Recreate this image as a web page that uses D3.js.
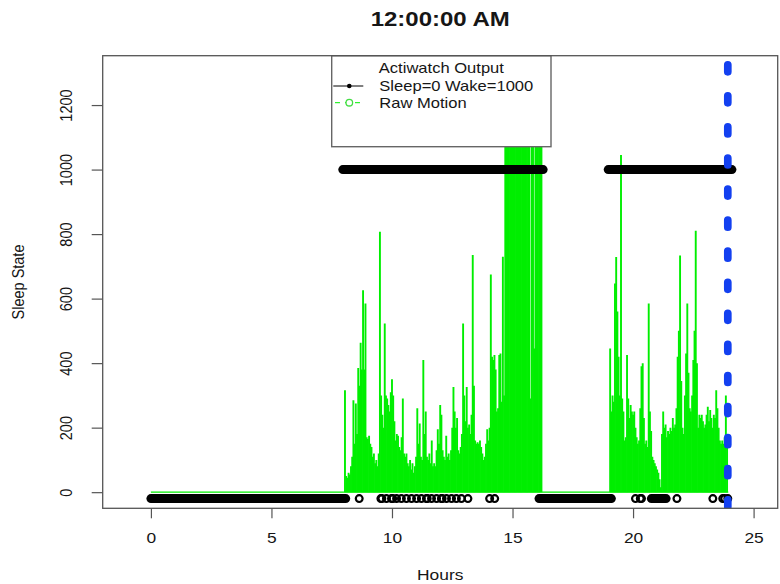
<!DOCTYPE html>
<html><head><meta charset="utf-8">
<script src="https://cdn.jsdelivr.net/npm/d3@7"></script>
<style>body{margin:0;background:#fff}svg{display:block}</style>
</head><body>
<svg id="c" width="780" height="584"></svg>
<script>
// ---------- data ----------
const titleText = "12:00:00 AM";
const xLabel = "Hours";
const yLabel = "Sleep State";
const xTicks = [0, 5, 10, 15, 20, 25];
const yTicks = [0, 200, 400, 600, 800, 1000, 1200];
const legendTitle = "Actiwatch Output";
const legendLabels = ["Sleep=0 Wake=1000", "Raw Motion"];
const markerHour = 23.93;
const sleepLevel = -20;
const wakeLevel = 1000;
// sleep-state runs [startHour, endHour]
const wakeRuns = [[7.96, 16.27], [18.97, 24.10]];
const sleepRuns = [[0, 8.08], [16.10, 19.10], [20.76, 21.37]];
const sleepPoints = [8.64, 9.54, 9.58, 9.77, 9.98, 10.03, 10.19, 10.39, 10.60, 10.81, 11.02,
  11.22, 11.43, 11.46, 11.64, 11.85, 12.05, 12.08, 12.26, 12.47, 12.67, 12.88, 13.15,
  14.05, 14.26, 20.10, 20.30, 20.35, 21.82, 23.31, 23.72, 23.80, 23.93];
// raw motion, sampled every 0.05 h
const motionStep = 0.05;
const motionBaseEnd = 23.95;
const motion1Start = 8.05;
const motion1 = [
  316,50,45,60,55,80,110,285,150,275,
  180,385,330,463,380,626,380,585,170,165,
  175,150,140,110,120,90,100,80,120,807,
  300,240,200,523,300,290,270,250,310,350,
  300,220,160,180,175,140,130,170,290,120,
  110,120,90,80,100,70,90,60,80,110,
  260,150,213,110,100,410,180,250,110,100,
  120,90,160,80,90,80,130,195,150,270,
  240,130,110,100,175,110,120,100,130,200,
  326,250,200,230,130,120,140,180,523,300,
  220,326,200,210,180,240,735,330,160,150,
  155,150,160,140,120,100,110,150,195,160,
  200,675,420,410,425,380,250,260,425,430,
  280,730,300,1300,1300,1300,1300,1300,1300,1300,
  1300,1300,1300,1300,1300,1300,1300,1300,1300,1300,
  1300,1300,1300,1300,290,1300,1300,445,1300,1300,
  1300,1300,1300,1300];
const motion2Start = 19.05;
const motion2 = [
  445,250,300,280,647,729,560,420,300,1045,
  290,250,160,170,425,290,230,270,250,240,
  250,200,170,150,160,260,390,400,230,150,
  160,140,585,250,190,110,100,90,80,70,
  60,40,15,180,250,200,210,170,190,180,
  200,190,230,200,210,260,420,500,734,345,
  200,180,300,430,585,370,260,250,300,410,
  500,810,400,200,240,230,240,220,200,210,
  240,265,220,255,230,200,240,230,316,260,
  200,160,150,160,150,170,300,170];

// ---------- layout ----------
const L = 102.7, R = 777.7, T = 55.7, B = 508.3;
const FONT = "'Liberation Sans', Arial, Helvetica, sans-serif";
const SX = 1.2; // horizontal text stretch of the reference
const GREEN = "#00ee00", BLUE = "#1340f0", INK = "#161616", FRAME = "#555";

const svg = d3.select("#c");
const x = d3.scaleLinear().domain([-2.0, 26.0]).range([L, R]);
const y = d3.scaleLinear().domain([-50, 1353]).range([B, T]);

svg.append("defs").append("clipPath").attr("id", "plotclip")
  .append("rect").attr("x", L).attr("y", T).attr("width", R - L).attr("height", B - T);
const plot = svg.append("g").attr("clip-path", "url(#plotclip)");

// raw motion
const motionPts = [];
motion1.forEach((v, i) => motionPts.push({h: motion1Start + i * motionStep, v}));
motion2.forEach((v, i) => motionPts.push({h: motion2Start + i * motionStep, v}));
plot.append("line")
  .attr("x1", x(0)).attr("x2", x(motionBaseEnd)).attr("y1", y(0)).attr("y2", y(0))
  .attr("stroke", GREEN).attr("stroke-width", 1.3);
plot.append("g").selectAll("line").data(motionPts).join("line")
  .attr("x1", d => x(d.h)).attr("x2", d => x(d.h))
  .attr("y1", y(0)).attr("y2", d => y(d.v))
  .attr("stroke", GREEN).attr("stroke-width", 1.9);

// sleep state
const R_PT = 3.4, SW_PT = 2.2;
const runs = wakeRuns.map(r => ({a: r[0], b: r[1], v: wakeLevel}))
  .concat(sleepRuns.map(r => ({a: r[0], b: r[1], v: sleepLevel})));
plot.append("g").selectAll("line").data(runs).join("line")
  .attr("x1", d => x(d.a)).attr("x2", d => x(d.b))
  .attr("y1", d => y(d.v)).attr("y2", d => y(d.v))
  .attr("stroke", "#000").attr("stroke-width", 2 * R_PT + SW_PT)
  .attr("stroke-linecap", "round");
plot.append("g").selectAll("circle").data(sleepPoints).join("circle")
  .attr("cx", d => x(d)).attr("cy", y(sleepLevel)).attr("r", R_PT)
  .attr("fill", "none").attr("stroke", "#000").attr("stroke-width", SW_PT);

// marker line
const period = 31.07, dashLen = 7, firstCenter = 68.3;
const off = period - ((firstCenter - dashLen / 2) - T);
plot.append("line")
  .attr("x1", x(markerHour)).attr("x2", x(markerHour)).attr("y1", T).attr("y2", B)
  .attr("stroke", BLUE).attr("stroke-width", 7.7).attr("stroke-linecap", "round")
  .attr("stroke-dasharray", `${dashLen} ${period - dashLen}`)
  .attr("stroke-dashoffset", off);

// legend
const lg = svg.append("g");
const lgL = 331.7, lgR = 551, lgB = 146.7;
lg.append("rect").attr("x", lgL).attr("y", T).attr("width", lgR - lgL).attr("height", lgB - T)
  .attr("fill", "#fff").attr("stroke", "#666").attr("stroke-width", 1.4);
lg.append("text").text(legendTitle)
  .attr("transform", `translate(${(lgL + lgR) / 2},72.5) scale(${SX},1)`)
  .attr("text-anchor", "middle").attr("font-family", FONT).attr("font-size", 13.8).attr("fill", INK);
const rowY = [86, 102.7];
legendLabels.forEach((t, i) => {
  lg.append("text").text(t)
    .attr("transform", `translate(379.3,${rowY[i] + 5.4}) scale(${SX},1)`)
    .attr("font-family", FONT).attr("font-size", 13.8).attr("fill", INK);
});
lg.append("line").attr("x1", 333.3).attr("x2", 363.3).attr("y1", rowY[0]).attr("y2", rowY[0])
  .attr("stroke", "#000").attr("stroke-width", 1);
lg.append("circle").attr("cx", 349.3).attr("cy", rowY[0]).attr("r", 2.3).attr("fill", "#000");
lg.append("line").attr("x1", 335).attr("x2", 362).attr("y1", rowY[1]).attr("y2", rowY[1])
  .attr("stroke", GREEN).attr("stroke-width", 1).attr("stroke-dasharray", "5 5");
lg.append("circle").attr("cx", 349.3).attr("cy", rowY[1]).attr("r", 3.3)
  .attr("fill", "#fff").attr("stroke", "#44dd44").attr("stroke-width", 1.3);

// frame
svg.append("rect").attr("x", L).attr("y", T).attr("width", R - L).attr("height", B - T)
  .attr("fill", "none").attr("stroke", FRAME).attr("stroke-width", 1.3);

// axes
const xa = svg.append("g").attr("transform", `translate(0,${B})`)
  .call(d3.axisBottom(x).tickValues(xTicks).tickSize(10).tickFormat(d3.format("d")));
xa.select(".domain").remove();
xa.selectAll(".tick line").attr("stroke", FRAME).attr("stroke-width", 1.2);
xa.selectAll(".tick text").attr("y", null).attr("dy", null)
  .attr("transform", `translate(0,34.7) scale(${SX},1)`)
  .attr("font-family", FONT).attr("font-size", 14.5).attr("fill", INK);

const ya = svg.append("g").attr("transform", `translate(${L},0)`)
  .call(d3.axisLeft(y).tickValues(yTicks).tickSize(11).tickFormat(d3.format("d")));
ya.select(".domain").remove();
ya.selectAll(".tick line").attr("stroke", FRAME).attr("stroke-width", 1.2);
ya.selectAll(".tick text").attr("x", null).attr("dy", null)
  .attr("text-anchor", "middle")
  .attr("transform", `translate(-31.2,0) scale(${SX},1) rotate(-90)`)
  .attr("font-family", FONT).attr("font-size", 14.5).attr("fill", INK);

// titles
svg.append("text").text(titleText)
  .attr("transform", `translate(${(L + R) / 2},26) scale(${SX},1)`)
  .attr("text-anchor", "middle").attr("font-family", FONT).attr("font-weight", "bold")
  .attr("font-size", 20).attr("fill", INK);
svg.append("text").text(xLabel)
  .attr("transform", `translate(${(L + R) / 2},580) scale(${SX},1)`)
  .attr("text-anchor", "middle").attr("font-family", FONT).attr("font-size", 14.5).attr("fill", INK);
svg.append("text").text(yLabel)
  .attr("transform", `translate(23.5,${(T + B) / 2}) scale(${SX},1) rotate(-90)`)
  .attr("text-anchor", "middle").attr("font-family", FONT).attr("font-size", 14.5).attr("fill", INK);
</script>
</body></html>
